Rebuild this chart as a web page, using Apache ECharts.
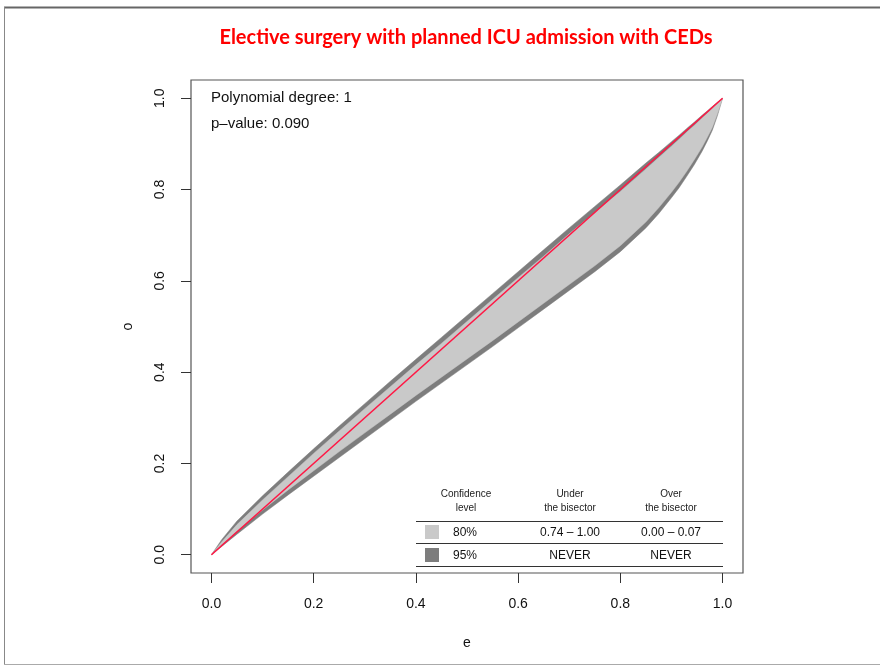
<!DOCTYPE html>
<html><head><meta charset="utf-8">
<script src="https://cdn.jsdelivr.net/npm/echarts@6/dist/echarts.min.js"></script>
<style>html,body{margin:0;padding:0;background:#fff}#c{width:880px;height:667px}</style>
</head><body><div id="c"></div>
<script>
const titleText = 'Elective surgery with planned ICU admission with CEDs';
const infoLines = ['Polynomial degree: 1', 'p\u2013value: 0.090'];
const tickValues = [0, 0.2, 0.4, 0.6, 0.8, 1.0];
const e     = [0, 0.02, 0.05, 0.1, 0.15, 0.2, 0.25, 0.3, 0.35, 0.4, 0.45, 0.5, 0.55, 0.6, 0.65, 0.7, 0.75, 0.8, 0.85, 0.875, 0.9, 0.915, 0.93, 0.945, 0.96, 0.97, 0.98, 0.99, 1.0];
const lo95  = [0, 0.018, 0.045, 0.089, 0.131, 0.172, 0.213, 0.254, 0.295, 0.336, 0.376, 0.416, 0.456, 0.497, 0.538, 0.579, 0.620, 0.664, 0.716, 0.747, 0.782, 0.804, 0.829, 0.855, 0.884, 0.906, 0.930, 0.962, 1.0];
const lo80  = [0, 0.022, 0.052, 0.098, 0.142, 0.184, 0.226, 0.267, 0.308, 0.349, 0.389, 0.429, 0.469, 0.510, 0.551, 0.592, 0.633, 0.677, 0.729, 0.760, 0.794, 0.816, 0.840, 0.866, 0.893, 0.914, 0.936, 0.966, 1.0];
const up80  = [0, 0.028, 0.066, 0.120, 0.171, 0.222, 0.271, 0.320, 0.368, 0.416, 0.463, 0.511, 0.559, 0.607, 0.654, 0.703, 0.7495, 0.796, 0.845, 0.870, 0.895, 0.910, 0.926, 0.941, 0.957, 0.967, 0.978, 0.989, 1.0];
const up95  = [0, 0.033, 0.074, 0.129, 0.181, 0.232, 0.282, 0.331, 0.380, 0.428, 0.476, 0.524, 0.572, 0.620, 0.668, 0.716, 0.763, 0.810, 0.858, 0.881, 0.905, 0.919, 0.934, 0.948, 0.963, 0.972, 0.982, 0.991, 1.0];
const bisector = [[0, 0], [1, 1]];
const tableHeader = [['Confidence', 'level'], ['Under', 'the bisector'], ['Over', 'the bisector']];
const tableRows = [['80%', '0.74 \u2013 1.00', '0.00 \u2013 0.07'], ['95%', 'NEVER', 'NEVER']];

const LIGHT = '#c9c9c9', DARK = '#7d7d7d';
const chart = echarts.init(document.getElementById('c'), null, {renderer: 'canvas'});

function band(lo, up, color) {
  return function (params, api) {
    if (params.dataIndex !== 0) return null;
    const pts = [];
    for (let i = 0; i < e.length; i++) pts.push(api.coord([e[i], lo[i]]));
    for (let i = e.length - 1; i >= 0; i--) pts.push(api.coord([e[i], up[i]]));
    return {type: 'polygon', shape: {points: pts, smooth: 0}, style: {fill: color, stroke: color, lineWidth: 0.5}};
  };
}

const font = 'Liberation Sans, Arial, Helvetica, sans-serif';
const colX = [466, 570, 671];
const graphics = [
  {type: 'line', shape: {x1: 4, y1: 7.5, x2: 880, y2: 7.5}, style: {stroke: '#666', lineWidth: 2}},
  {type: 'line', shape: {x1: 4.5, y1: 7, x2: 4.5, y2: 665}, style: {stroke: '#888', lineWidth: 1}},
  {type: 'line', shape: {x1: 4, y1: 664.5, x2: 880, y2: 664.5}, style: {stroke: '#aaa', lineWidth: 1}},
  {type: 'text', x: 466, y: 38, style: {text: titleText, fill: '#ff0000', font: 'bold 20px Lato, "Open Sans", sans-serif', textAlign: 'center', textVerticalAlign: 'middle'}},
  {type: 'text', x: 211, y: 98, style: {text: infoLines[0], fill: '#111', font: '15px ' + font, textAlign: 'left', textVerticalAlign: 'middle'}},
  {type: 'text', x: 211, y: 124, style: {text: infoLines[1], fill: '#111', font: '15px ' + font, textAlign: 'left', textVerticalAlign: 'middle'}},
  {type: 'line', shape: {x1: 416, y1: 521.5, x2: 723, y2: 521.5}, style: {stroke: '#333', lineWidth: 1.2}},
  {type: 'line', shape: {x1: 416, y1: 543.5, x2: 723, y2: 543.5}, style: {stroke: '#333', lineWidth: 1.2}},
  {type: 'line', shape: {x1: 416, y1: 566.5, x2: 723, y2: 566.5}, style: {stroke: '#333', lineWidth: 1.2}},
  {type: 'rect', shape: {x: 425, y: 525, width: 14, height: 14}, style: {fill: LIGHT}},
  {type: 'rect', shape: {x: 425, y: 548, width: 14, height: 14}, style: {fill: DARK}}
];
tableHeader.forEach((h, j) => {
  graphics.push({type: 'text', x: colX[j], y: 494, style: {text: h[0], fill: '#222', font: '10px ' + font, textAlign: 'center', textVerticalAlign: 'middle'}});
  graphics.push({type: 'text', x: colX[j], y: 508, style: {text: h[1], fill: '#222', font: '10px ' + font, textAlign: 'center', textVerticalAlign: 'middle'}});
});
tableRows.forEach((r, i) => {
  const y = 533 + i * 23;
  graphics.push({type: 'text', x: 453, y: y, style: {text: r[0], fill: '#111', font: '12px ' + font, textAlign: 'left', textVerticalAlign: 'middle'}});
  graphics.push({type: 'text', x: colX[1], y: y, style: {text: r[1], fill: '#111', font: '12px ' + font, textAlign: 'center', textVerticalAlign: 'middle'}});
  graphics.push({type: 'text', x: colX[2], y: y, style: {text: r[2], fill: '#111', font: '12px ' + font, textAlign: 'center', textVerticalAlign: 'middle'}});
});

const axisCommon = {
  type: 'value', min: -0.04, max: 1.04,
  splitLine: {show: false},
  axisLine: {show: false, onZero: false},
  axisTick: {show: true, inside: false, length: 10, lineStyle: {color: '#333', width: 1}, customValues: tickValues},
  nameLocation: 'middle',
  nameTextStyle: {fontFamily: font, fontSize: 14, color: '#111'}
};

chart.setOption({
  animation: false,
  backgroundColor: '#fff',
  grid: {left: 191, right: 137, top: 80, bottom: 94, show: true, borderColor: '#555', borderWidth: 1.2, backgroundColor: 'transparent'},
  xAxis: Object.assign({}, axisCommon, {
    name: 'e', nameGap: 63,
    axisLabel: {customValues: tickValues, margin: 24, fontFamily: font, fontSize: 14, color: '#111', formatter: v => v.toFixed(1)}
  }),
  yAxis: Object.assign({}, axisCommon, {
    name: 'o', nameGap: 56,
    axisLabel: {customValues: tickValues, margin: 24, rotate: 90, fontFamily: font, fontSize: 14, color: '#111', formatter: v => v.toFixed(1)}
  }),
  graphic: graphics,
  series: [
    {type: 'custom', renderItem: band(lo95, up95, DARK), data: [[0, 0]], silent: true, clip: true, z: 1},
    {type: 'custom', renderItem: band(lo80, up80, LIGHT), data: [[0, 0]], silent: true, clip: true, z: 2},
    {type: 'line', data: bisector, showSymbol: false, lineStyle: {color: '#ff1744', width: 1.6}, z: 3, silent: true}
  ]
});
</script></body></html>
